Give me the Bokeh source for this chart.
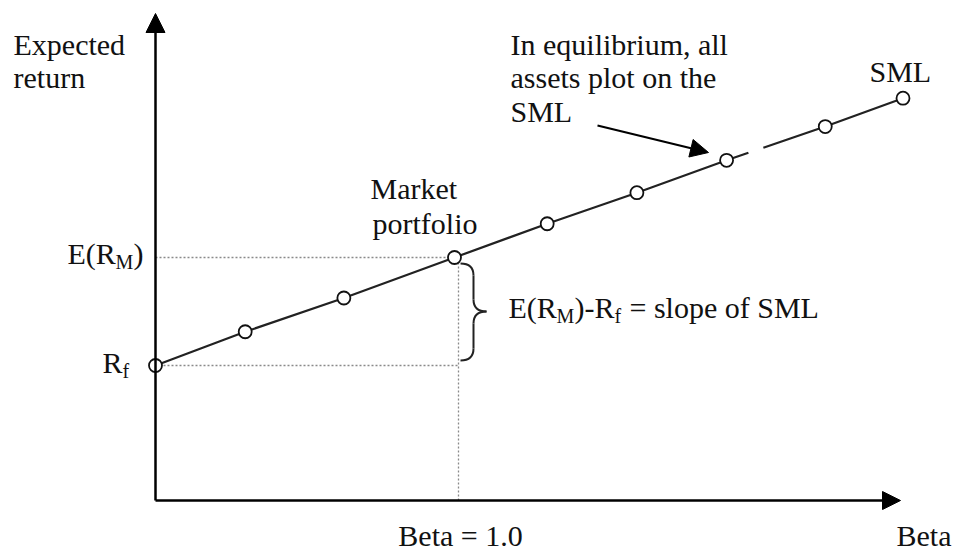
import numpy as np
from bokeh.plotting import figure
from bokeh.models import Arrow, NormalHead
from bokeh.core.properties import value
from bokeh.embed import file_html
from bokeh.resources import INLINE

# ---- data ----
betas = [0.0, 0.30, 0.63, 1.0, 1.31, 1.61, 1.91, 2.24, 2.50]
returns = [5.0, 6.25, 7.5, 9.0, 10.25, 11.4, 12.6, 13.85, 14.9]
rf = 5.0          # risk-free rate (Rf)
rm = 9.0          # expected market return E(RM)
beta_market = 1.0
gap_betas = [1.983, 2.033]   # small break in the SML line near the annotation arrow

# ---- geometry (page pixels <-> data) ----
W, H = 955, 551
OFF = 0
SX, SY = 299.0, 27.0           # px per beta, px per return unit
X0 = (OFF - 155) / SX          # data x at left edge of frame
Y1 = (500 - OFF) / SY          # data y at top edge of frame
x_range = (X0, X0 + W / SX)
y_range = (Y1 - H / SY, Y1)


def dx(px):
    return px / SX


def dy(px):
    return px / SY


def bx(page_x):
    return (page_x - OFF) / SX + X0


def ry(page_y):
    return Y1 - (page_y - OFF) / SY


p = figure(width=W, height=H, x_range=x_range, y_range=y_range,
           output_backend="svg", toolbar_location=None,
           x_axis_location=None, y_axis_location=None, min_border=0)
p.outline_line_color = None
p.grid.visible = False
p.background_fill_color = "white"
p.border_fill_color = "white"

FONT = value("Liberation Serif")
FS = "30px"
SUB = "20px"
INK = "#111111"

# ---- dotted guide lines ----
p.line([0, beta_market], [rm, rm], line_color="#8a8a8a", line_dash="2 2", line_width=1.3)
p.line([0, beta_market + dx(5)], [rf, rf], line_color="#8a8a8a", line_dash="2 2", line_width=1.3)
p.line([beta_market + dx(4), beta_market + dx(4)], [0, rm], line_color="#8a8a8a", line_dash="2 2", line_width=1.3)

# ---- axes with arrows ----
p.add_layout(Arrow(end=NormalHead(size=19, fill_color="black", line_color="black"),
                   x_start=0, y_start=0, x_end=0, y_end=ry(13),
                   line_width=2.5, line_color="black"))
p.add_layout(Arrow(end=NormalHead(size=18, fill_color="black", line_color="black"),
                   x_start=0, y_start=0, x_end=bx(900), y_end=0,
                   line_width=2.5, line_color="black"))

# ---- SML line (with a small break) ----
b = np.array(betas)
r = np.array(returns)
g0, g1 = gap_betas
m1 = b < g0
m2 = b > g1
xs1 = list(b[m1]) + [g0]
ys1 = list(r[m1]) + [float(np.interp(g0, b, r))]
xs2 = [g1] + list(b[m2])
ys2 = [float(np.interp(g1, b, r))] + list(r[m2])
p.line(xs1, ys1, line_color="#222222", line_width=2.2)
p.line(xs2, ys2, line_color="#222222", line_width=2.2)

p.scatter(betas, returns, marker="circle", size=13, fill_color="white",
          line_color="#111111", line_width=1.8)

# ---- brace between Rf and E(RM) at beta = 1 ----
xl = beta_market + dx(6)
xs = beta_market + dx(19)
xt = beta_market + dx(32)
ytop = rm - dy(6)
ybot = rf + dy(5)
ymid = (rm + rf) / 2
rr = dy(12)
p.quadratic(x0=[xl], y0=[ytop], x1=[xs], y1=[ytop - rr], cx=[xs], cy=[ytop],
            line_color="#222222", line_width=2)
p.line([xs, xs], [ytop - rr, ymid + rr], line_color="#222222", line_width=2)
p.quadratic(x0=[xs], y0=[ymid + rr], x1=[xt], y1=[ymid], cx=[xs], cy=[ymid],
            line_color="#222222", line_width=2)
p.quadratic(x0=[xt], y0=[ymid], x1=[xs], y1=[ymid - rr], cx=[xs], cy=[ymid],
            line_color="#222222", line_width=2)
p.line([xs, xs], [ymid - rr, ybot + rr], line_color="#222222", line_width=2)
p.quadratic(x0=[xs], y0=[ybot + rr], x1=[xl], y1=[ybot], cx=[xs], cy=[ybot],
            line_color="#222222", line_width=2)

# ---- annotation arrow ----
p.add_layout(Arrow(end=NormalHead(size=18, fill_color="black", line_color="black"),
                   x_start=bx(597), y_start=ry(125), x_end=bx(708), y_end=ry(152),
                   line_width=2.2, line_color="black"))

# text renders a little lower than its nominal baseline; lift it to compensate
LIFT = {FS: 11, SUB: 7}


def txt(x, y, s, size=FS, align="left"):
    p.text(x=[x], y=[y + dy(LIFT[size])], text=[s], text_font=FONT, text_font_size=size,
           text_color=INK, text_align=align, text_baseline="alphabetic")


# axis titles
txt(bx(13), ry(55), "Expected")
txt(bx(13), ry(88), "return")
txt(bx(896), ry(546), "Beta")
txt(beta_market + dx(6), ry(546), "Beta = 1.0", align="center")
txt(bx(869), ry(82), "SML")

# E(RM) tick label
txt(bx(67), rm - dy(7), "E(R")
txt(bx(67) + dx(48), rm - dy(11), "M", size=SUB)
txt(bx(67) + dx(66), rm - dy(7), ")")
# Rf tick label
txt(bx(102), rf - dy(8), "R")
txt(bx(102) + dx(20), rf - dy(12), "f", size=SUB)

# Market portfolio
txt(bx(370), ry(199), "Market")
txt(bx(372), ry(234), "portfolio")

# slope label
sx0 = bx(508)
sy0 = ry(318)
txt(sx0, sy0, "E(R")
txt(sx0 + dx(48), sy0 - dy(4), "M", size=SUB)
txt(sx0 + dx(66), sy0, ")-R")
txt(sx0 + dx(106), sy0 - dy(4), "f", size=SUB)
txt(sx0 + dx(121), sy0, "= slope of SML")

# equilibrium note
txt(bx(510), ry(55), "In equilibrium, all")
txt(bx(510), ry(88), "assets plot on the")
txt(bx(510), ry(122), "SML")

open("out.html", "w").write(file_html(p, INLINE))
